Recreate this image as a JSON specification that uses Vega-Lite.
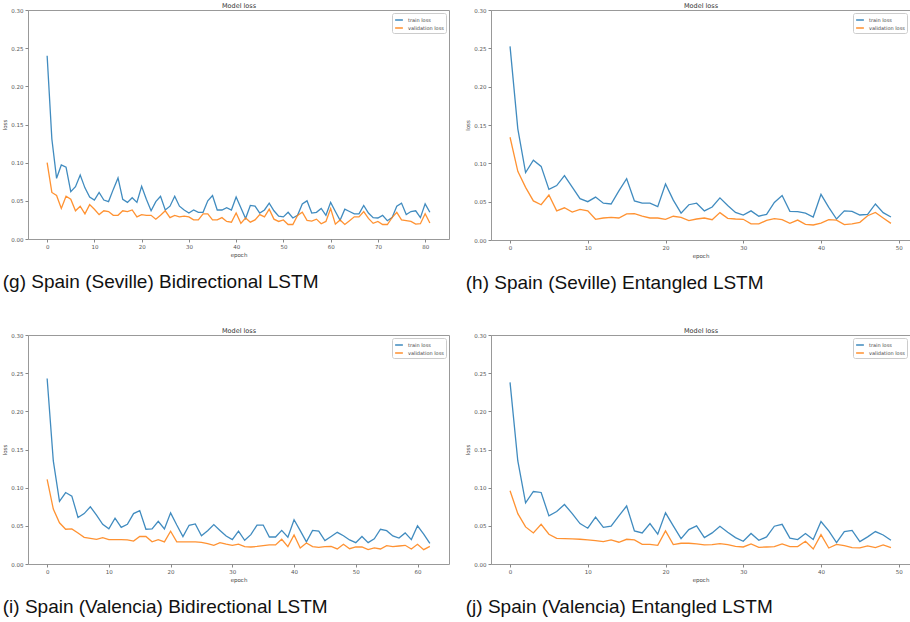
{
  "$schema": "https://vega.github.io/schema/vega-lite/v6.json",
  "background": "white",
  "padding": {"left": 2, "top": 1, "right": 1, "bottom": 1},
  "config": {
    "view": {"stroke": "#999999", "strokeWidth": 1},
    "axis": {"grid": false, "domain": false, "labelFontSize": 5.5, "titleFontSize": 5.5, "labelColor": "#555555", "titleColor": "#444444", "titleFontWeight": "normal", "tickColor": "#888888", "tickSize": 3, "labelPadding": 2, "titlePadding": 3, "labelFont": "DejaVu Sans", "titleFont": "DejaVu Sans"},
    "title": {"fontSize": 19, "font": "Liberation Sans", "fontWeight": "normal", "color": "#111111", "orient": "bottom", "anchor": "start", "offset": 15},
    "legend": {"orient": "top-right", "title": null, "labelFontSize": 5, "labelColor": "#444444", "labelFont": "DejaVu Sans", "symbolType": "stroke", "symbolStrokeWidth": 1.5, "symbolSize": 60, "strokeColor": "#cccccc", "fillColor": "white", "padding": 2, "cornerRadius": 2, "offset": 3, "rowPadding": 0, "labelOffset": 4},
    "line": {"strokeWidth": 1.3, "opacity": 0.85}
  },
  "datasets": {
    "g": [
      {"epoch":0,"train loss":0.240,"validation loss":0.100},{"epoch":1,"train loss":0.131,"validation loss":0.061},{"epoch":2,"train loss":0.0795,"validation loss":0.057},{"epoch":3,"train loss":0.097,"validation loss":0.040},{"epoch":4,"train loss":0.094,"validation loss":0.056},{"epoch":5,"train loss":0.062,"validation loss":0.052},{"epoch":6,"train loss":0.0686,"validation loss":0.037},{"epoch":7,"train loss":0.0838,"validation loss":0.043},{"epoch":8,"train loss":0.067,"validation loss":0.033},{"epoch":9,"train loss":0.055,"validation loss":0.045},
      {"epoch":10,"train loss":0.051,"validation loss":0.039},{"epoch":11,"train loss":0.061,"validation loss":0.032},{"epoch":12,"train loss":0.051,"validation loss":0.037},{"epoch":13,"train loss":0.049,"validation loss":0.036},{"epoch":14,"train loss":0.065,"validation loss":0.031},{"epoch":15,"train loss":0.080,"validation loss":0.031},{"epoch":16,"train loss":0.052,"validation loss":0.037},{"epoch":17,"train loss":0.048,"validation loss":0.036},{"epoch":18,"train loss":0.054,"validation loss":0.038},{"epoch":19,"train loss":0.048,"validation loss":0.029},
      {"epoch":20,"train loss":0.069,"validation loss":0.032},{"epoch":21,"train loss":0.052,"validation loss":0.031},{"epoch":22,"train loss":0.037,"validation loss":0.031},{"epoch":23,"train loss":0.049,"validation loss":0.026},{"epoch":24,"train loss":0.056,"validation loss":0.031},{"epoch":25,"train loss":0.038,"validation loss":0.037},{"epoch":26,"train loss":0.043,"validation loss":0.028},{"epoch":27,"train loss":0.056,"validation loss":0.031},{"epoch":28,"train loss":0.043,"validation loss":0.029},{"epoch":29,"train loss":0.038,"validation loss":0.030},
      {"epoch":30,"train loss":0.034,"validation loss":0.029},{"epoch":31,"train loss":0.038,"validation loss":0.025},{"epoch":32,"train loss":0.035,"validation loss":0.025},{"epoch":33,"train loss":0.035,"validation loss":0.033},{"epoch":34,"train loss":0.050,"validation loss":0.033},{"epoch":35,"train loss":0.057,"validation loss":0.025},{"epoch":36,"train loss":0.038,"validation loss":0.025},{"epoch":37,"train loss":0.038,"validation loss":0.028},{"epoch":38,"train loss":0.041,"validation loss":0.023},{"epoch":39,"train loss":0.038,"validation loss":0.022},
      {"epoch":40,"train loss":0.055,"validation loss":0.034},{"epoch":41,"train loss":0.041,"validation loss":0.0205},{"epoch":42,"train loss":0.027,"validation loss":0.0275},{"epoch":43,"train loss":0.044,"validation loss":0.022},{"epoch":44,"train loss":0.043,"validation loss":0.025},{"epoch":45,"train loss":0.034,"validation loss":0.032},{"epoch":46,"train loss":0.038,"validation loss":0.029},{"epoch":47,"train loss":0.047,"validation loss":0.039},{"epoch":48,"train loss":0.037,"validation loss":0.026},{"epoch":49,"train loss":0.030,"validation loss":0.023},
      {"epoch":50,"train loss":0.029,"validation loss":0.025},{"epoch":51,"train loss":0.035,"validation loss":0.019},{"epoch":52,"train loss":0.0275,"validation loss":0.019},{"epoch":53,"train loss":0.031,"validation loss":0.031},{"epoch":54,"train loss":0.046,"validation loss":0.035},{"epoch":55,"train loss":0.050,"validation loss":0.0245},{"epoch":56,"train loss":0.034,"validation loss":0.0235},{"epoch":57,"train loss":0.035,"validation loss":0.026},{"epoch":58,"train loss":0.040,"validation loss":0.020},{"epoch":59,"train loss":0.031,"validation loss":0.023},
      {"epoch":60,"train loss":0.048,"validation loss":0.040},{"epoch":61,"train loss":0.036,"validation loss":0.0195},{"epoch":62,"train loss":0.0245,"validation loss":0.025},{"epoch":63,"train loss":0.039,"validation loss":0.019},{"epoch":64,"train loss":0.036,"validation loss":0.024},{"epoch":65,"train loss":0.033,"validation loss":0.029},{"epoch":66,"train loss":0.033,"validation loss":0.029},{"epoch":67,"train loss":0.044,"validation loss":0.036},{"epoch":68,"train loss":0.034,"validation loss":0.027},{"epoch":69,"train loss":0.028,"validation loss":0.0205},
      {"epoch":70,"train loss":0.0275,"validation loss":0.023},{"epoch":71,"train loss":0.031,"validation loss":0.019},{"epoch":72,"train loss":0.024,"validation loss":0.019},{"epoch":73,"train loss":0.028,"validation loss":0.028},{"epoch":74,"train loss":0.043,"validation loss":0.035},{"epoch":75,"train loss":0.047,"validation loss":0.025},{"epoch":76,"train loss":0.032,"validation loss":0.024},{"epoch":77,"train loss":0.036,"validation loss":0.023},{"epoch":78,"train loss":0.037,"validation loss":0.0195},{"epoch":79,"train loss":0.028,"validation loss":0.020},
      {"epoch":80,"train loss":0.046,"validation loss":0.033},{"epoch":81,"train loss":0.035,"validation loss":0.021}
    ],
    "h": [
      {"epoch":0,"train loss":0.2526,"validation loss":0.134},{"epoch":1,"train loss":0.145,"validation loss":0.0896},{"epoch":2,"train loss":0.088,"validation loss":0.0687},{"epoch":3,"train loss":0.104,"validation loss":0.051},{"epoch":4,"train loss":0.096,"validation loss":0.046},{"epoch":5,"train loss":0.066,"validation loss":0.0587},{"epoch":6,"train loss":0.071,"validation loss":0.038},{"epoch":7,"train loss":0.084,"validation loss":0.042},{"epoch":8,"train loss":0.069,"validation loss":0.0365},{"epoch":9,"train loss":0.054,"validation loss":0.040},
      {"epoch":10,"train loss":0.050,"validation loss":0.038},{"epoch":11,"train loss":0.056,"validation loss":0.027},{"epoch":12,"train loss":0.048,"validation loss":0.0287},{"epoch":13,"train loss":0.047,"validation loss":0.0296},{"epoch":14,"train loss":0.064,"validation loss":0.0287},{"epoch":15,"train loss":0.080,"validation loss":0.034},{"epoch":16,"train loss":0.051,"validation loss":0.0343},{"epoch":17,"train loss":0.048,"validation loss":0.031},{"epoch":18,"train loss":0.048,"validation loss":0.0287},{"epoch":19,"train loss":0.0435,"validation loss":0.0287},
      {"epoch":20,"train loss":0.073,"validation loss":0.027},{"epoch":21,"train loss":0.052,"validation loss":0.031},{"epoch":22,"train loss":0.035,"validation loss":0.0296},{"epoch":23,"train loss":0.046,"validation loss":0.0252},{"epoch":24,"train loss":0.048,"validation loss":0.0274},{"epoch":25,"train loss":0.038,"validation loss":0.0287},{"epoch":26,"train loss":0.043,"validation loss":0.0265},{"epoch":27,"train loss":0.055,"validation loss":0.0357},{"epoch":28,"train loss":0.045,"validation loss":0.0283},{"epoch":29,"train loss":0.036,"validation loss":0.0274},
      {"epoch":30,"train loss":0.0326,"validation loss":0.027},{"epoch":31,"train loss":0.038,"validation loss":0.021},{"epoch":32,"train loss":0.031,"validation loss":0.021},{"epoch":33,"train loss":0.0335,"validation loss":0.0257},{"epoch":34,"train loss":0.049,"validation loss":0.0278},{"epoch":35,"train loss":0.058,"validation loss":0.0265},{"epoch":36,"train loss":0.0374,"validation loss":0.0217},{"epoch":37,"train loss":0.037,"validation loss":0.026},{"epoch":38,"train loss":0.035,"validation loss":0.0204},{"epoch":39,"train loss":0.030,"validation loss":0.0196},
      {"epoch":40,"train loss":0.0596,"validation loss":0.022},{"epoch":41,"train loss":0.0426,"validation loss":0.0265},{"epoch":42,"train loss":0.0274,"validation loss":0.026},{"epoch":43,"train loss":0.038,"validation loss":0.020},{"epoch":44,"train loss":0.0374,"validation loss":0.021},{"epoch":45,"train loss":0.0326,"validation loss":0.023},{"epoch":46,"train loss":0.0335,"validation loss":0.0317},{"epoch":47,"train loss":0.047,"validation loss":0.036},{"epoch":48,"train loss":0.0357,"validation loss":0.0287},{"epoch":49,"train loss":0.030,"validation loss":0.0217}
    ],
    "i": [
      {"epoch":0,"train loss":0.243,"validation loss":0.111},{"epoch":1,"train loss":0.135,"validation loss":0.072},{"epoch":2,"train loss":0.082,"validation loss":0.054},{"epoch":3,"train loss":0.0936,"validation loss":0.0455},{"epoch":4,"train loss":0.089,"validation loss":0.046},{"epoch":5,"train loss":0.061,"validation loss":0.0407},{"epoch":6,"train loss":0.066,"validation loss":0.035},{"epoch":7,"train loss":0.075,"validation loss":0.0337},{"epoch":8,"train loss":0.064,"validation loss":0.0324},{"epoch":9,"train loss":0.052,"validation loss":0.0345},
      {"epoch":10,"train loss":0.046,"validation loss":0.032},{"epoch":11,"train loss":0.060,"validation loss":0.032},{"epoch":12,"train loss":0.048,"validation loss":0.032},{"epoch":13,"train loss":0.052,"validation loss":0.0315},{"epoch":14,"train loss":0.066,"validation loss":0.030},{"epoch":15,"train loss":0.070,"validation loss":0.036},{"epoch":16,"train loss":0.0455,"validation loss":0.036},{"epoch":17,"train loss":0.046,"validation loss":0.029},{"epoch":18,"train loss":0.056,"validation loss":0.032},{"epoch":19,"train loss":0.046,"validation loss":0.029},
      {"epoch":20,"train loss":0.067,"validation loss":0.043},{"epoch":21,"train loss":0.051,"validation loss":0.029},{"epoch":22,"train loss":0.036,"validation loss":0.029},{"epoch":23,"train loss":0.0507,"validation loss":0.029},{"epoch":24,"train loss":0.0525,"validation loss":0.029},{"epoch":25,"train loss":0.037,"validation loss":0.0284},{"epoch":26,"train loss":0.0437,"validation loss":0.0267},{"epoch":27,"train loss":0.0516,"validation loss":0.0245},{"epoch":28,"train loss":0.044,"validation loss":0.028},{"epoch":29,"train loss":0.0367,"validation loss":0.026},
      {"epoch":30,"train loss":0.032,"validation loss":0.0245},{"epoch":31,"train loss":0.043,"validation loss":0.026},{"epoch":32,"train loss":0.031,"validation loss":0.0227},{"epoch":33,"train loss":0.0385,"validation loss":0.0223},{"epoch":34,"train loss":0.051,"validation loss":0.023},{"epoch":35,"train loss":0.051,"validation loss":0.024},{"epoch":36,"train loss":0.0354,"validation loss":0.025},{"epoch":37,"train loss":0.0354,"validation loss":0.025},{"epoch":38,"train loss":0.044,"validation loss":0.0324},{"epoch":39,"train loss":0.035,"validation loss":0.0227},
      {"epoch":40,"train loss":0.058,"validation loss":0.038},{"epoch":41,"train loss":0.0437,"validation loss":0.021},{"epoch":42,"train loss":0.029,"validation loss":0.0275},{"epoch":43,"train loss":0.044,"validation loss":0.0227},{"epoch":44,"train loss":0.043,"validation loss":0.0219},{"epoch":45,"train loss":0.0306,"validation loss":0.0227},{"epoch":46,"train loss":0.036,"validation loss":0.023},{"epoch":47,"train loss":0.0415,"validation loss":0.0197},{"epoch":48,"train loss":0.037,"validation loss":0.0258},{"epoch":49,"train loss":0.0315,"validation loss":0.020},
      {"epoch":50,"train loss":0.028,"validation loss":0.0223},{"epoch":51,"train loss":0.036,"validation loss":0.0223},{"epoch":52,"train loss":0.028,"validation loss":0.0188},{"epoch":53,"train loss":0.033,"validation loss":0.021},{"epoch":54,"train loss":0.0455,"validation loss":0.0197},{"epoch":55,"train loss":0.0437,"validation loss":0.024},{"epoch":56,"train loss":0.0367,"validation loss":0.0227},{"epoch":57,"train loss":0.034,"validation loss":0.0236},{"epoch":58,"train loss":0.0407,"validation loss":0.0245},{"epoch":59,"train loss":0.032,"validation loss":0.0197},
      {"epoch":60,"train loss":0.050,"validation loss":0.0258},{"epoch":61,"train loss":0.039,"validation loss":0.0188},{"epoch":62,"train loss":0.027,"validation loss":0.023}
    ],
    "j": [
      {"epoch":0,"train loss":0.238,"validation loss":0.096},{"epoch":1,"train loss":0.135,"validation loss":0.066},{"epoch":2,"train loss":0.080,"validation loss":0.0486},{"epoch":3,"train loss":0.095,"validation loss":0.0407},{"epoch":4,"train loss":0.0937,"validation loss":0.052},{"epoch":5,"train loss":0.063,"validation loss":0.039},{"epoch":6,"train loss":0.0688,"validation loss":0.0337},{"epoch":7,"train loss":0.078,"validation loss":0.0333},{"epoch":8,"train loss":0.066,"validation loss":0.0328},{"epoch":9,"train loss":0.053,"validation loss":0.0324},
      {"epoch":10,"train loss":0.0469,"validation loss":0.0315},{"epoch":11,"train loss":0.0613,"validation loss":0.0307},{"epoch":12,"train loss":0.048,"validation loss":0.0293},{"epoch":13,"train loss":0.0495,"validation loss":0.0315},{"epoch":14,"train loss":0.063,"validation loss":0.0285},{"epoch":15,"train loss":0.076,"validation loss":0.0324},{"epoch":16,"train loss":0.0434,"validation loss":0.0315},{"epoch":17,"train loss":0.0407,"validation loss":0.0258},{"epoch":18,"train loss":0.053,"validation loss":0.0258},{"epoch":19,"train loss":0.039,"validation loss":0.0245},
      {"epoch":20,"train loss":0.067,"validation loss":0.0434},{"epoch":21,"train loss":0.050,"validation loss":0.0254},{"epoch":22,"train loss":0.0333,"validation loss":0.0272},{"epoch":23,"train loss":0.045,"validation loss":0.0272},{"epoch":24,"train loss":0.050,"validation loss":0.0263},{"epoch":25,"train loss":0.0346,"validation loss":0.025},{"epoch":26,"train loss":0.0407,"validation loss":0.0254},{"epoch":27,"train loss":0.0495,"validation loss":0.0267},{"epoch":28,"train loss":0.0416,"validation loss":0.0254},{"epoch":29,"train loss":0.0346,"validation loss":0.0232},
      {"epoch":30,"train loss":0.0298,"validation loss":0.0223},{"epoch":31,"train loss":0.040,"validation loss":0.0263},{"epoch":32,"train loss":0.031,"validation loss":0.0219},{"epoch":33,"train loss":0.0355,"validation loss":0.0223},{"epoch":34,"train loss":0.0495,"validation loss":0.0228},{"epoch":35,"train loss":0.052,"validation loss":0.0263},{"epoch":36,"train loss":0.034,"validation loss":0.0228},{"epoch":37,"train loss":0.032,"validation loss":0.0228},{"epoch":38,"train loss":0.040,"validation loss":0.0298},{"epoch":39,"train loss":0.032,"validation loss":0.0197},
      {"epoch":40,"train loss":0.0556,"validation loss":0.0385},{"epoch":41,"train loss":0.0434,"validation loss":0.021},{"epoch":42,"train loss":0.028,"validation loss":0.0258},{"epoch":43,"train loss":0.0425,"validation loss":0.0241},{"epoch":44,"train loss":0.044,"validation loss":0.0215},{"epoch":45,"train loss":0.0293,"validation loss":0.021},{"epoch":46,"train loss":0.0355,"validation loss":0.0237},{"epoch":47,"train loss":0.0425,"validation loss":0.0215},{"epoch":48,"train loss":0.038,"validation loss":0.025},{"epoch":49,"train loss":0.031,"validation loss":0.0215}
    ]
  },
  "resolve": {"scale": {"color": "independent"}, "legend": {"color": "independent"}},
  "spacing": 32,
  "vconcat": [
    {
      "spacing": 15,
      "resolve": {"scale": {"color": "independent"}, "legend": {"color": "independent"}},
      "hconcat": [
        {
          "title": "(g) Spain (Seville) Bidirectional LSTM",
          "width": 421, "height": 229,
          "data": {"name": "g"},
          "transform": [{"fold": ["train loss", "validation loss"], "as": ["series", "loss"]}],
          "resolve": {"axis": {"x": "independent"}},
          "layer": [
            {
              "mark": "line",
              "encoding": {
                "x": {"field": "epoch", "type": "quantitative", "title": "epoch", "scale": {"domain": [-4.05, 85.05], "nice": false, "zero": false}, "axis": {"values": [0, 10, 20, 30, 40, 50, 60, 70, 80]}},
                "y": {"field": "loss", "type": "quantitative", "title": "loss", "scale": {"domain": [0, 0.3], "nice": false}, "axis": {"values": [0, 0.05, 0.1, 0.15, 0.2, 0.25, 0.3], "format": ".2f"}},
                "color": {"field": "series", "type": "nominal", "scale": {"domain": ["train loss", "validation loss"], "range": ["#1f77b4", "#ff7f0e"]}, "legend": {"orient": "top-right"}}
              }
            },
            {
              "mark": {"type": "line", "opacity": 0},
              "encoding": {
                "x": {"field": "epoch", "type": "quantitative", "axis": {"orient": "top", "labels": false, "ticks": false, "domain": false, "title": "Model loss", "titleFontSize": 6.5, "titleColor": "#333333", "titlePadding": 2}}
              }
            }
          ]
        },
        {
          "title": "(h) Spain (Seville) Entangled LSTM",
          "width": 419, "height": 230,
          "data": {"name": "h"},
          "transform": [{"fold": ["train loss", "validation loss"], "as": ["series", "loss"]}],
          "resolve": {"axis": {"x": "independent"}},
          "layer": [
            {
              "mark": "line",
              "encoding": {
                "x": {"field": "epoch", "type": "quantitative", "title": "epoch", "scale": {"domain": [-2.45, 51.45], "nice": false, "zero": false}, "axis": {"values": [0, 10, 20, 30, 40, 50]}},
                "y": {"field": "loss", "type": "quantitative", "title": "loss", "scale": {"domain": [0, 0.3], "nice": false}, "axis": {"values": [0, 0.05, 0.1, 0.15, 0.2, 0.25, 0.3], "format": ".2f"}},
                "color": {"field": "series", "type": "nominal", "scale": {"domain": ["train loss", "validation loss"], "range": ["#1f77b4", "#ff7f0e"]}, "legend": {"orient": "top-right"}}
              }
            },
            {
              "mark": {"type": "line", "opacity": 0},
              "encoding": {
                "x": {"field": "epoch", "type": "quantitative", "axis": {"orient": "top", "labels": false, "ticks": false, "domain": false, "title": "Model loss", "titleFontSize": 6.5, "titleColor": "#333333", "titlePadding": 2}}
              }
            }
          ]
        }
      ]
    },
    {
      "spacing": 15,
      "resolve": {"scale": {"color": "independent"}, "legend": {"color": "independent"}},
      "hconcat": [
        {
          "title": "(i) Spain (Valencia) Bidirectional LSTM",
          "width": 421, "height": 229,
          "data": {"name": "i"},
          "transform": [{"fold": ["train loss", "validation loss"], "as": ["series", "loss"]}],
          "resolve": {"axis": {"x": "independent"}},
          "layer": [
            {
              "mark": "line",
              "encoding": {
                "x": {"field": "epoch", "type": "quantitative", "title": "epoch", "scale": {"domain": [-3.1, 65.1], "nice": false, "zero": false}, "axis": {"values": [0, 10, 20, 30, 40, 50, 60]}},
                "y": {"field": "loss", "type": "quantitative", "title": "loss", "scale": {"domain": [0, 0.3], "nice": false}, "axis": {"values": [0, 0.05, 0.1, 0.15, 0.2, 0.25, 0.3], "format": ".2f"}},
                "color": {"field": "series", "type": "nominal", "scale": {"domain": ["train loss", "validation loss"], "range": ["#1f77b4", "#ff7f0e"]}, "legend": {"orient": "top-right"}}
              }
            },
            {
              "mark": {"type": "line", "opacity": 0},
              "encoding": {
                "x": {"field": "epoch", "type": "quantitative", "axis": {"orient": "top", "labels": false, "ticks": false, "domain": false, "title": "Model loss", "titleFontSize": 6.5, "titleColor": "#333333", "titlePadding": 2}}
              }
            }
          ]
        },
        {
          "title": "(j) Spain (Valencia) Entangled LSTM",
          "width": 419, "height": 229,
          "data": {"name": "j"},
          "transform": [{"fold": ["train loss", "validation loss"], "as": ["series", "loss"]}],
          "resolve": {"axis": {"x": "independent"}},
          "layer": [
            {
              "mark": "line",
              "encoding": {
                "x": {"field": "epoch", "type": "quantitative", "title": "epoch", "scale": {"domain": [-2.45, 51.45], "nice": false, "zero": false}, "axis": {"values": [0, 10, 20, 30, 40, 50]}},
                "y": {"field": "loss", "type": "quantitative", "title": "loss", "scale": {"domain": [0, 0.3], "nice": false}, "axis": {"values": [0, 0.05, 0.1, 0.15, 0.2, 0.25, 0.3], "format": ".2f"}},
                "color": {"field": "series", "type": "nominal", "scale": {"domain": ["train loss", "validation loss"], "range": ["#1f77b4", "#ff7f0e"]}, "legend": {"orient": "top-right"}}
              }
            },
            {
              "mark": {"type": "line", "opacity": 0},
              "encoding": {
                "x": {"field": "epoch", "type": "quantitative", "axis": {"orient": "top", "labels": false, "ticks": false, "domain": false, "title": "Model loss", "titleFontSize": 6.5, "titleColor": "#333333", "titlePadding": 2}}
              }
            }
          ]
        }
      ]
    }
  ]
}
